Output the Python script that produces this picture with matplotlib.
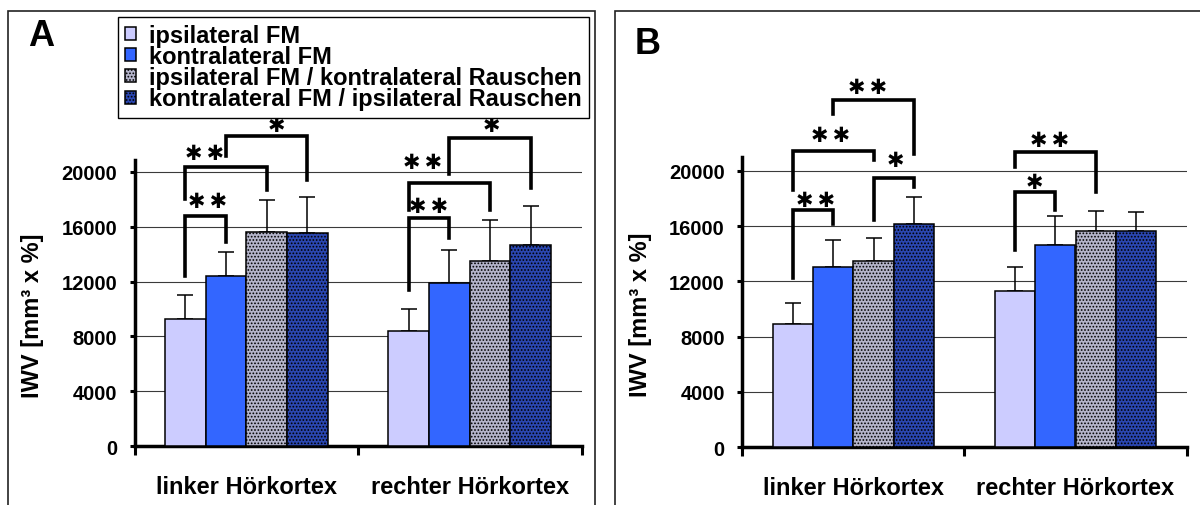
import matplotlib
matplotlib.use('Agg')
import matplotlib.pyplot as plt
from matplotlib.patches import Rectangle

plt.rcParams['font.family'] = ['Liberation Sans', 'DejaVu Sans']
plt.rcParams['font.weight'] = 'bold'
plt.rcParams['axes.labelweight'] = 'bold'
plt.rcParams['hatch.linewidth'] = 0.8

# Daten
regions = ['linker Hörkortex', 'rechter Hörkortex']
conditions = ['ipsilateral FM', 'kontralateral FM',
              'ipsilateral FM / kontralateral Rauschen',
              'kontralateral FM / ipsilateral Rauschen']

# Panel A: Mittelwerte je Bedingung (links, rechts)
a_ipsi = [9290, 8420]
a_kontra = [12390, 11920]
a_ipsi_rausch = [15620, 13500]
a_kontra_rausch = [15550, 14690]
a_sd = [[1750, 1600], [1770, 2390], [2340, 3000], [2630, 2810]]

# Panel B
b_ipsi = [8890, 11300]
b_kontra = [13070, 14660]
b_ipsi_rausch = [13480, 15630]
b_kontra_rausch = [16140, 15630]
b_sd = [[1540, 1740], [1930, 2060], [1640, 1490], [2000, 1380]]

# Signifikanz-Klammern: (Gruppe, Balken i, Balken j, Text)
a_sig = [(0, 0, 1, '**'), (0, 0, 2, '**'), (0, 1, 3, '*'),
         (1, 0, 1, '**'), (1, 0, 2, '**'), (1, 1, 3, '*')]
b_sig = [(0, 0, 1, '**'), (0, 0, 2, '**'), (0, 1, 3, '**'), (0, 2, 3, '*'),
         (1, 0, 1, '*'), (1, 0, 2, '**')]

# Klammer-Geometrie: (oben, linkes Ende, rechtes Ende, Text-x als Balkenindex, Text-y)
a_geo = [(16790, 12410, 14890, 0.54, 17850),
         (20365, 18030, 18690, 0.46, 21350),
         (22630, 21170, 19420, 2.25, 23400),
         (16640, 11410, 15180, 0.49, 17550),
         (19200, 17230, 17230, 0.35, 20750),
         (22480, 19850, 18830, 2.04, 23400)]
b_geo = [(17170, 12270, 16160, 0.56, 17900),
         (21470, 18620, 20800, 0.94, 22600),
         (25140, 24130, 21230, 1.85, 26100),
         (19470, 16450, 18820, 2.54, 20800),
         (18460, 14300, 17200, 0.48, 19200),
         (21360, 20310, 18500, 0.86, 22250)]

face_colors = ['#CCCCFF', '#3366FF', '#B4B4CA', '#2A46B0']
hatches = [None, None, '.....', '.....']
W = 0.182


def draw_panel(ax, series, sds, sig, geo, ymax):
    for i, (vals, sd) in enumerate(zip(series, sds)):
        xs = [g + (i - 1.5) * W for g in range(len(regions))]
        ax.bar(xs, vals, width=W, color=face_colors[i], edgecolor='black',
               linewidth=1.1, hatch=hatches[i], label=conditions[i], zorder=3)
        ax.errorbar(xs, vals, yerr=[[0] * len(vals), sd], fmt='none',
                    ecolor='black', elinewidth=1.1, capsize=5.5, capthick=1.1,
                    zorder=2)

    # Klammern
    for (g, i, j, txt), (top, yl, yr, tx, ty) in zip(sig, geo):
        x1 = g + (i - 1.5) * W
        x2 = g + (j - 1.5) * W
        ax.plot([x1, x1, x2, x2], [yl, top, top, yr], color='black', lw=2.6,
                solid_joinstyle='miter', clip_on=False, zorder=4)
        stars = '\u2009'.join(['\u2731'] * len(txt))
        ax.text(g + (tx - 1.5) * W, ty, stars,
                ha='center', va='center', fontsize=15, family='DejaVu Sans',
                fontweight='normal', clip_on=False)

    ax.set_xlim(-0.5, 1.5)
    ax.set_ylim(0, ymax)
    ax.set_yticks(range(0, 20001, 4000))
    ax.set_xticks([0, 1])
    ax.set_xticklabels(regions, fontsize=17)
    ax.set_xticks([-0.5, 0.5, 1.5], minor=True)
    ax.tick_params(axis='x', which='major', length=0, pad=21)
    ax.tick_params(axis='x', which='minor', length=6.5, width=2.2,
                   direction='out')
    ax.tick_params(axis='y', length=3.6, width=2.2, pad=9, labelsize=14.5)
    ax.yaxis.grid(True, color='#3a3a3a', lw=0.8)
    ax.set_axisbelow(True)
    for s in ['top', 'right']:
        ax.spines[s].set_visible(False)
    for s in ['left', 'bottom']:
        ax.spines[s].set_linewidth(2.5)
    ax.set_ylabel('IWV [mm³ x %]', fontsize=17, fontweight='bold', va='center')
    ax.yaxis.set_label_coords(-0.229, 0.46)


fig = plt.figure(figsize=(12, 5.06), dpi=100)

ax_a = fig.add_axes([0.1122, 0.1166, 0.3724, 0.5654])
draw_panel(ax_a, [a_ipsi, a_kontra, a_ipsi_rausch, a_kontra_rausch],
           a_sd, a_sig, a_geo, 20880)

ax_b = fig.add_axes([0.6186, 0.1146, 0.3702, 0.5728])
draw_panel(ax_b, [b_ipsi, b_kontra, b_ipsi_rausch, b_kontra_rausch],
           b_sd, b_sig, b_geo, 21000)

# Legende
leg = ax_a.legend(loc='upper left', bbox_to_anchor=(118 / 1200, 1 - 18 / 506),
                  bbox_transform=fig.transFigure, fontsize=17,
                  handlelength=0.47, handleheight=0.47, handletextpad=0.55,
                  labelspacing=-0.08, borderpad=0.3, borderaxespad=0,
                  fancybox=False, framealpha=1, edgecolor='black')
leg.get_frame().set_linewidth(1.0)

# Rahmen und Panelbuchstaben
fig.add_artist(Rectangle((8 / 1200, -0.1), 587 / 1200, 1.1 - 12 / 506,
                         transform=fig.transFigure, fill=False,
                         edgecolor='#222222', lw=1.2))
fig.add_artist(Rectangle((615 / 1200, -0.1), 0.6, 1.1 - 12 / 506,
                         transform=fig.transFigure, fill=False,
                         edgecolor='#222222', lw=1.2))
fig.text(41.5 / 1200, 1 - 37 / 506, 'A', fontsize=26, ha='center', va='center')
fig.text(648 / 1200, 1 - 44.5 / 506, 'B', fontsize=26, ha='center', va='center')

fig.savefig('out.png', dpi=100)
